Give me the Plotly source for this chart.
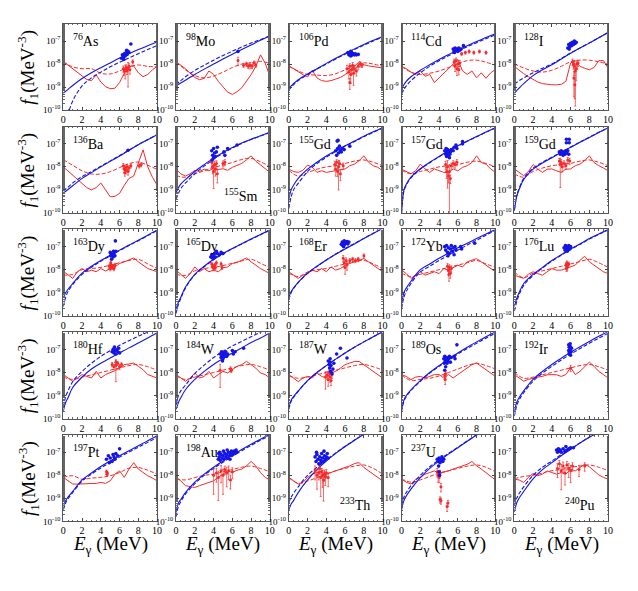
import plotly.graph_objects as go

# ---------------- data (log10 of f1 in MeV^-3) ----------------
NUCLEI = [("76", "As"), ("98", "Mo"), ("106", "Pd"), ("114", "Cd"), ("128", "I"),
          ("136", "Ba"), ("155", "Sm"), ("155", "Gd"), ("157", "Gd"), ("159", "Gd"),
          ("163", "Dy"), ("165", "Dy"), ("168", "Er"), ("172", "Yb"), ("176", "Lu"),
          ("180", "Hf"), ("184", "W"), ("187", "W"), ("189", "Os"), ("192", "Ir"),
          ("197", "Pt"), ("198", "Au"), ("233", "Th"), ("237", "U"), ("240", "Pu")]
LABEL_CORNER = ["tl"] * 6 + ["br"] + ["tl"] * 15 + ["br", "tl", "br"]

XB = [0, 0.25, 0.5, 1, 2, 3, 4, 5, 6, 7, 8, 9, 10]
XR = [0, 0.5, 1, 1.5, 2, 2.5, 3, 3.5, 4, 4.5, 5, 5.5, 6, 6.5, 7, 7.5, 8, 8.5, 9, 9.5, 10]
XD = [0, 1, 2, 3, 4, 5, 6, 7, 8, 9, 10]

BLUE_SOLID = [
    [-9.27, -9.18, -9.1, -8.93, -8.63, -8.38, -8.16, -7.95, -7.74, -7.55, -7.37, -7.2, -7.04],
    [-8.95, -8.88, -8.82, -8.7, -8.45, -8.22, -8.0, -7.78, -7.57, -7.37, -7.17, -6.97, -6.78],
    [-9.1, -8.95, -8.85, -8.68, -8.43, -8.2, -7.97, -7.75, -7.54, -7.34, -7.15, -6.97, -6.8],
    [-9.1, -8.9, -8.75, -8.55, -8.27, -8.03, -7.8, -7.59, -7.39, -7.2, -7.02, -6.85, -6.68],
    [-9.28, -9.15, -9.05, -8.85, -8.5, -8.25, -8.03, -7.78, -7.53, -7.3, -7.09, -6.86, -6.63],
    [-9.14, -9.06, -8.98, -8.82, -8.5, -8.25, -8.0, -7.76, -7.53, -7.28, -7.04, -6.82, -6.6],
    [-9.1, -8.9, -8.75, -8.55, -8.2, -7.9, -7.62, -7.38, -7.16, -6.96, -6.8, -6.65, -6.5],
    [-9.4, -9.0, -8.8, -8.5, -8.1, -7.8, -7.53, -7.3, -7.08, -6.88, -6.67, -6.48, -6.3],
    [-10.0, -9.0, -8.75, -8.45, -8.08, -7.8, -7.55, -7.3, -7.08, -6.88, -6.68, -6.49, -6.3],
    [-9.9, -9.3, -9.0, -8.55, -8.1, -7.83, -7.6, -7.37, -7.15, -6.93, -6.72, -6.51, -6.3],
    [-9.2, -9.0, -8.85, -8.6, -8.15, -7.85, -7.6, -7.37, -7.15, -6.93, -6.72, -6.5, -6.27],
    [-9.7, -9.4, -9.2, -8.75, -8.2, -7.85, -7.55, -7.3, -7.08, -6.87, -6.67, -6.47, -6.27],
    [-9.2, -8.95, -8.8, -8.55, -8.15, -7.85, -7.58, -7.33, -7.1, -6.88, -6.65, -6.43, -6.2],
    [-9.5, -9.0, -8.8, -8.5, -8.0, -7.75, -7.5, -7.28, -7.05, -6.85, -6.65, -6.45, -6.25],
    [-9.6, -9.25, -9.0, -8.6, -8.2, -7.9, -7.6, -7.35, -7.1, -6.88, -6.65, -6.45, -6.25],
    [-9.68, -9.3, -9.1, -8.65, -8.2, -7.85, -7.6, -7.37, -7.15, -6.93, -6.72, -6.5, -6.27],
    [-9.6, -9.3, -9.1, -8.75, -8.3, -7.95, -7.65, -7.4, -7.15, -6.93, -6.7, -6.5, -6.28],
    [-9.5, -9.2, -9.05, -8.8, -8.35, -8.0, -7.7, -7.42, -7.15, -6.9, -6.67, -6.45, -6.23],
    [-9.6, -9.2, -9.0, -8.75, -8.35, -8.0, -7.7, -7.42, -7.15, -6.9, -6.67, -6.45, -6.23],
    [-9.7, -9.3, -9.1, -8.8, -8.3, -7.95, -7.65, -7.38, -7.12, -6.88, -6.65, -6.43, -6.22],
    [-9.35, -9.1, -8.95, -8.7, -8.2, -7.9, -7.62, -7.38, -7.15, -6.93, -6.72, -6.5, -6.28],
    [-9.6, -9.2, -9.05, -8.75, -8.3, -7.95, -7.65, -7.38, -7.12, -6.88, -6.65, -6.43, -6.22],
    [-9.5, -9.25, -9.1, -8.75, -8.2, -7.75, -7.38, -7.05, -6.75, -6.48, -6.22, -5.98, -5.75],
    [-9.5, -9.1, -8.9, -8.6, -8.1, -7.7, -7.38, -7.08, -6.8, -6.52, -6.25, -6.0, -5.75],
    [-9.6, -9.2, -9.0, -8.7, -8.15, -7.75, -7.45, -7.15, -6.88, -6.6, -6.35, -6.12, -5.88],
]

BLUE_DASH = [
    [-11.0, -10.6, -10.2, -9.6, -8.95, -8.6, -8.35, -8.12, -7.92, -7.73, -7.55, -7.37, -7.2],
    [-8.9, -8.8, -8.72, -8.55, -8.28, -8.05, -7.83, -7.63, -7.44, -7.26, -7.09, -6.93, -6.78],
    [-9.15, -9.0, -8.9, -8.72, -8.46, -8.22, -8.0, -7.78, -7.57, -7.37, -7.18, -7.0, -6.83],
    [-9.3, -9.1, -8.95, -8.72, -8.38, -8.1, -7.86, -7.64, -7.44, -7.25, -7.07, -6.9, -6.73],
    [-8.85, -8.8, -8.72, -8.6, -8.38, -8.18, -8.0, -7.76, -7.52, -7.3, -7.08, -6.86, -6.63],
    [-9.05, -8.96, -8.88, -8.7, -8.42, -8.2, -7.97, -7.74, -7.51, -7.27, -7.03, -6.81, -6.6],
    [-9.4, -9.15, -8.95, -8.7, -8.3, -7.97, -7.67, -7.41, -7.18, -6.98, -6.81, -6.66, -6.51],
    [-9.8, -9.3, -9.0, -8.72, -8.2, -7.86, -7.58, -7.33, -7.1, -6.9, -6.69, -6.5, -6.32],
    [-10.0, -9.05, -8.8, -8.48, -8.1, -7.82, -7.56, -7.31, -7.09, -6.89, -6.69, -6.5, -6.31],
    [-9.9, -9.25, -8.95, -8.5, -8.05, -7.8, -7.58, -7.36, -7.14, -6.92, -6.71, -6.5, -6.3],
    [-9.6, -9.2, -8.95, -8.65, -8.2, -7.9, -7.63, -7.4, -7.17, -6.95, -6.74, -6.52, -6.3],
    [-9.9, -9.5, -9.25, -8.8, -8.22, -7.87, -7.57, -7.32, -7.09, -6.88, -6.68, -6.48, -6.28],
    [-9.3, -9.0, -8.82, -8.56, -8.16, -7.86, -7.58, -7.32, -7.08, -6.86, -6.64, -6.42, -6.2],
    [-9.7, -9.2, -8.95, -8.6, -8.1, -7.85, -7.6, -7.38, -7.15, -6.93, -6.72, -6.5, -6.3],
    [-9.8, -9.4, -9.1, -8.68, -8.25, -7.93, -7.63, -7.37, -7.12, -6.9, -6.67, -6.47, -6.27],
    [-9.5, -9.05, -8.8, -8.4, -7.95, -7.6, -7.3, -7.05, -6.82, -6.62, -6.42, -6.24, -6.05],
    [-9.4, -9.0, -8.8, -8.55, -8.05, -7.68, -7.35, -7.08, -6.85, -6.65, -6.45, -6.25, -6.06],
    [-9.6, -9.25, -9.08, -8.82, -8.36, -8.0, -7.7, -7.42, -7.15, -6.9, -6.67, -6.45, -6.23],
    [-9.7, -9.25, -9.05, -8.78, -8.38, -8.03, -7.73, -7.46, -7.2, -6.96, -6.73, -6.51, -6.3],
    [-9.9, -9.45, -9.2, -8.88, -8.38, -8.03, -7.73, -7.46, -7.2, -6.96, -6.73, -6.51, -6.3],
    [-9.5, -9.2, -9.02, -8.75, -8.25, -7.95, -7.68, -7.44, -7.21, -6.99, -6.78, -6.57, -6.36],
    [-9.8, -9.35, -9.15, -8.82, -8.36, -8.0, -7.7, -7.43, -7.17, -6.93, -6.7, -6.48, -6.27],
    [-9.2, -8.95, -8.78, -8.5, -8.0, -7.65, -7.33, -7.03, -6.74, -6.47, -6.21, -5.97, -5.74],
    [-9.3, -8.95, -8.75, -8.45, -8.0, -7.63, -7.33, -7.05, -6.78, -6.51, -6.24, -5.99, -5.74],
    [-9.3, -9.0, -8.8, -8.5, -8.0, -7.65, -7.38, -7.1, -6.85, -6.59, -6.34, -6.11, -5.88],
]

RED_SOLID = [
    [-7.89, -8.05, -8.2, -8.37, -8.53, -8.67, -8.72, -8.47, -8.78, -8.98, -9.07, -9.05, -8.8, -8.4, -8.1, -8.08, -8.38, -8.55, -8.45, -8.25, -8.1],
    [-7.9, -8.05, -8.2, -8.4, -8.58, -8.68, -8.62, -8.3, -8.45, -8.75, -9.0, -9.22, -9.32, -9.2, -9.03, -8.75, -8.46, -8.1, -7.6, -7.96, -8.53],
    [-8.07, -8.2, -8.36, -8.46, -8.56, -8.27, -8.6, -8.72, -8.75, -8.72, -8.65, -8.58, -8.46, -8.3, -8.1, -7.89, -8.03, -8.08, -8.1, -8.15, -8.17],
    [-8.1, -8.2, -8.35, -8.45, -8.3, -8.53, -8.45, -8.8, -8.6, -8.4, -8.24, -8.03, -7.8, -8.3, -8.45, -8.3, -8.6, -8.38, -8.62, -8.38, -8.24],
    [-8.1, -8.27, -8.42, -8.55, -8.68, -8.78, -8.85, -8.88, -8.9, -8.9, -8.88, -8.75, -7.95, -7.85, -8.1, -8.18, -8.25, -8.15, -7.85, -7.85, -8.17],
    [-8.0, -8.18, -8.36, -8.55, -8.75, -8.9, -9.0, -8.9, -8.7, -9.0, -9.3, -9.28, -9.15, -8.8, -8.5, -8.4, -7.79, -7.26, -8.0, -8.45, -8.79],
    [-8.1, -8.3, -8.4, -8.3, -8.15, -8.2, -8.1, -8.17, -8.05, -8.12, -8.08, -8.15, -8.02, -7.92, -7.85, -7.7, -7.52, -7.75, -7.9, -8.05, -8.24],
    [-8.1, -8.2, -8.24, -8.15, -7.92, -8.02, -8.24, -8.17, -8.24, -8.2, -8.17, -8.12, -8.09, -7.95, -7.88, -7.73, -7.52, -7.8, -7.95, -8.02, -8.17],
    [-8.1, -8.2, -8.3, -8.17, -7.88, -8.09, -8.24, -8.09, -8.17, -8.24, -8.24, -8.09, -8.17, -8.02, -7.95, -7.81, -7.52, -7.81, -7.88, -8.09, -8.24],
    [-8.09, -8.25, -8.38, -8.2, -7.9, -8.1, -8.24, -8.1, -8.09, -8.17, -8.24, -8.1, -8.09, -7.95, -7.88, -7.73, -7.52, -7.81, -7.95, -8.05, -8.17],
    [-8.07, -8.24, -8.38, -8.09, -7.95, -8.09, -8.02, -8.09, -7.95, -8.06, -7.95, -7.88, -7.73, -7.66, -7.59, -7.49, -7.66, -7.81, -7.95, -8.02, -8.09],
    [-8.02, -8.2, -8.38, -8.17, -7.88, -8.09, -7.95, -8.09, -8.02, -8.09, -7.92, -7.88, -7.73, -7.69, -7.59, -7.49, -7.66, -7.81, -7.95, -8.06, -8.17],
    [-8.09, -8.24, -8.38, -8.24, -8.17, -8.02, -8.09, -7.95, -8.09, -7.88, -8.02, -7.95, -7.81, -7.73, -7.66, -7.59, -7.52, -7.66, -7.81, -7.95, -8.09],
    [-8.02, -8.17, -8.38, -8.24, -8.09, -8.24, -8.17, -8.09, -8.17, -7.95, -8.02, -7.92, -7.81, -7.88, -7.66, -7.59, -7.52, -7.66, -7.81, -7.95, -8.09],
    [-8.24, -8.3, -8.38, -8.2, -8.09, -8.17, -8.24, -8.09, -7.95, -8.02, -8.02, -7.95, -7.88, -7.8, -7.59, -7.42, -7.66, -7.81, -7.95, -8.09, -8.17],
    [-8.09, -8.24, -8.38, -8.24, -8.09, -8.17, -8.24, -7.95, -8.24, -8.09, -8.02, -7.92, -7.81, -7.66, -7.63, -7.59, -7.73, -7.88, -8.09, -8.17, -8.24],
    [-8.09, -8.24, -8.38, -8.24, -8.02, -8.24, -8.17, -7.95, -8.24, -8.09, -7.95, -8.02, -7.88, -7.73, -7.66, -7.52, -7.66, -7.81, -8.02, -8.09, -8.24],
    [-8.09, -8.24, -8.4, -8.24, -8.17, -8.24, -8.02, -8.17, -8.24, -8.02, -7.95, -7.81, -7.66, -7.59, -7.52, -7.52, -7.66, -7.81, -7.95, -8.09, -8.24],
    [-8.09, -8.17, -8.31, -8.2, -8.17, -8.24, -8.17, -8.09, -8.09, -8.24, -8.09, -8.24, -8.09, -7.95, -7.81, -7.66, -7.59, -7.73, -7.88, -8.02, -8.17],
    [-8.09, -8.24, -8.38, -8.3, -8.24, -8.2, -8.17, -8.1, -8.09, -8.1, -8.17, -8.09, -7.78, -8.09, -7.95, -7.73, -7.55, -7.73, -7.95, -8.09, -8.24],
    [-8.09, -8.24, -8.38, -8.38, -8.38, -8.38, -8.35, -8.35, -8.31, -8.35, -8.24, -7.95, -7.81, -8.09, -7.73, -7.45, -7.73, -7.88, -8.02, -8.12, -8.24],
    [-8.09, -8.24, -8.45, -8.5, -8.53, -8.45, -8.38, -8.3, -8.24, -8.09, -7.95, -7.81, -7.88, -7.78, -7.73, -7.59, -7.4, -7.59, -7.88, -8.09, -8.2],
    [-8.09, -8.24, -8.38, -8.31, -8.09, -7.95, -7.88, -7.81, -7.95, -7.88, -7.81, -7.73, -7.66, -7.59, -7.49, -7.45, -7.66, -7.81, -7.95, -8.09, -8.24],
    [-8.17, -8.3, -8.38, -8.17, -8.09, -7.95, -7.88, -7.81, -7.92, -7.88, -7.81, -7.73, -7.66, -7.59, -7.52, -7.4, -7.59, -7.73, -7.88, -8.02, -8.2],
    [-8.17, -8.2, -8.31, -8.09, -7.92, -8.02, -7.95, -7.81, -7.88, -7.95, -7.88, -7.95, -7.73, -7.81, -7.66, -7.52, -7.63, -7.81, -7.98, -8.09, -8.17],
]

RED_DASH = [
    [-7.9, -8.12, -8.2, -8.2, -8.4, -8.43, -8.3, -8.12, -8.04, -8.1, -8.12],
    [-7.9, -8.25, -8.5, -8.6, -8.52, -8.35, -8.15, -8.0, -7.95, -7.88, -7.98],
    [-8.1, -8.3, -8.45, -8.48, -8.5, -8.42, -8.25, -8.1, -7.95, -8.0, -8.1],
    [-8.1, -8.35, -8.45, -8.4, -8.3, -8.15, -7.98, -7.85, -7.83, -7.92, -8.05],
    [-7.99, -8.17, -8.3, -8.35, -8.27, -8.1, -7.9, -7.83, -7.83, -7.9, -8.0],
    [-7.69, -7.93, -8.17, -8.31, -8.31, -8.21, -8.03, -7.86, -7.79, -7.93, -8.11],
    [-8.38, -8.45, -8.3, -8.17, -8.03, -7.92, -7.81, -7.68, -7.63, -7.78, -7.98],
    [-8.15, -8.4, -8.25, -8.1, -8.0, -7.95, -7.85, -7.75, -7.7, -7.8, -7.95],
    [-8.15, -8.3, -8.2, -8.1, -8.0, -7.95, -7.9, -7.8, -7.75, -7.85, -8.0],
    [-8.3, -8.45, -8.2, -8.05, -7.95, -7.9, -7.85, -7.75, -7.7, -7.8, -7.95],
    [-8.24, -8.2, -8.0, -7.95, -7.9, -7.8, -7.7, -7.6, -7.55, -7.75, -7.95],
    [-8.2, -8.25, -8.05, -7.95, -7.9, -7.82, -7.72, -7.62, -7.55, -7.72, -7.92],
    [-8.15, -8.3, -8.1, -8.0, -7.95, -7.85, -7.75, -7.65, -7.6, -7.75, -7.95],
    [-8.15, -8.3, -8.2, -8.1, -8.0, -7.9, -7.8, -7.7, -7.6, -7.75, -7.9],
    [-8.1, -8.35, -8.15, -8.05, -7.95, -7.85, -7.75, -7.65, -7.55, -7.7, -7.9],
    [-8.2, -8.3, -8.2, -8.1, -8.0, -7.9, -7.8, -7.7, -7.65, -7.75, -7.9],
    [-8.15, -8.3, -8.2, -8.1, -8.0, -7.9, -7.8, -7.7, -7.65, -7.75, -7.9],
    [-8.15, -8.25, -8.2, -8.1, -8.0, -7.9, -7.8, -7.7, -7.65, -7.75, -7.9],
    [-8.1, -8.35, -8.3, -8.25, -8.15, -8.0, -7.85, -7.7, -7.6, -7.7, -7.85],
    [-8.0, -8.25, -8.2, -8.1, -8.0, -7.9, -7.8, -7.7, -7.65, -7.75, -7.9],
    [-8.09, -8.02, -8.17, -8.12, -8.09, -8.02, -7.88, -7.69, -7.66, -7.78, -7.95],
    [-8.15, -8.2, -8.1, -8.0, -7.95, -7.85, -7.75, -7.65, -7.6, -7.7, -7.85],
    [-8.1, -8.35, -8.25, -8.1, -7.95, -7.8, -7.7, -7.6, -7.55, -7.7, -7.95],
    [-8.15, -8.3, -8.2, -8.05, -7.9, -7.8, -7.7, -7.6, -7.55, -7.65, -7.85],
    [-8.15, -8.05, -8.0, -7.9, -7.8, -7.75, -7.65, -7.6, -7.55, -7.65, -7.8],
]

# blue experimental points: (E, log10 f1)
BLUE_PTS = [
    [(6.2, -7.75), (6.3, -7.6), (6.4, -7.7), (6.5, -7.55), (6.6, -7.65), (6.7, -7.5), (6.8, -7.58), (6.9, -7.45), (7.0, -7.5), (6.45, -7.8), (6.75, -7.4), (7.2, -7.13)],
    [(6.6, -7.45)],
    [(6.3, -7.5), (6.4, -7.6), (6.5, -7.55), (6.6, -7.65), (6.7, -7.5), (6.8, -7.6), (6.9, -7.55), (7.0, -7.6), (7.1, -7.55), (7.2, -7.6), (7.4, -7.58), (6.6, -7.45)],
    [(5.5, -7.35), (5.6, -7.45), (5.7, -7.3), (5.8, -7.4), (5.9, -7.35), (6.0, -7.45), (6.1, -7.3), (6.2, -7.4), (5.65, -7.5), (6.6, -7.2), (6.35, -7.35)],
    [(5.7, -7.3), (5.8, -7.15), (5.9, -7.25), (6.0, -7.1), (6.1, -7.2), (6.2, -7.05), (6.3, -7.15), (6.4, -7.0), (6.5, -7.1), (6.6, -7.05), (5.85, -7.35)],
    [(6.9, -7.28)],
    [(3.8, -7.3), (3.9, -7.5), (4.0, -7.2), (4.0, -7.6), (4.1, -7.4), (4.2, -7.55), (4.3, -7.35), (3.85, -7.7), (4.4, -7.15), (5.1, -7.35), (5.2, -7.5), (5.5, -7.2), (6.5, -7.05)],
    [(5.0, -7.3), (5.1, -7.5), (5.15, -6.88), (5.2, -7.2), (5.25, -6.85), (5.3, -7.4), (5.4, -7.1), (5.5, -7.3), (5.7, -7.2), (5.9, -7.25), (6.5, -7.1), (5.6, -7.35)],
    [(4.6, -7.3), (4.7, -7.45), (4.75, -7.2), (4.8, -7.55), (4.85, -7.35), (4.9, -7.25), (4.95, -7.5), (5.0, -7.4), (5.05, -7.3), (5.1, -7.6), (5.15, -7.45), (5.2, -7.35), (5.3, -7.25), (5.5, -7.3), (5.6, -7.15), (5.8, -7.05), (5.9, -7.2), (6.5, -7.0), (6.5, -6.9)],
    [(4.8, -7.35), (4.9, -7.45), (5.0, -7.3), (5.1, -7.4), (5.2, -7.5), (5.3, -7.35), (5.4, -7.45), (5.5, -7.3), (5.6, -7.4), (5.7, -7.3), (5.8, -7.45), (5.55, -6.8), (5.55, -6.95), (5.85, -6.8), (5.85, -6.95)],
    [(5.0, -7.25), (5.05, -7.4), (5.1, -7.3), (5.15, -7.55), (5.2, -7.35), (5.3, -7.45), (5.35, -7.2), (5.4, -7.3), (5.5, -7.4), (5.6, -7.2), (5.55, -6.75)],
    [(3.7, -7.45), (3.8, -7.35), (3.9, -7.5), (4.0, -7.4), (4.1, -7.3), (4.2, -7.45), (4.4, -7.3), (4.6, -7.35), (4.8, -7.25), (5.0, -7.3), (4.3, -7.2)],
    [(5.6, -6.9), (5.7, -6.8), (5.75, -6.95), (5.8, -6.85), (5.9, -6.75), (5.95, -6.9), (6.0, -6.8), (6.1, -6.85), (6.2, -6.78), (6.3, -6.88), (6.4, -6.8), (5.85, -7.0)],
    [(4.6, -7.0), (4.7, -7.15), (4.8, -6.95), (4.9, -7.25), (5.0, -7.05), (5.1, -7.3), (5.2, -7.1), (5.3, -6.95), (5.4, -7.2), (5.5, -7.05), (5.6, -7.35), (5.7, -7.0), (5.8, -7.15), (6.3, -7.0), (6.4, -7.1), (7.8, -6.85), (4.95, -7.4)],
    [(5.3, -7.05), (5.4, -7.15), (5.45, -6.95), (5.5, -7.1), (5.6, -7.0), (5.65, -7.2), (5.7, -7.05), (5.8, -6.95), (5.9, -7.1), (6.0, -7.0), (5.55, -7.15)],
    [(5.2, -7.1), (5.3, -7.0), (5.4, -7.15), (5.5, -7.05), (5.6, -7.2), (5.7, -7.0), (5.8, -7.1), (5.9, -6.95), (6.0, -7.15), (5.45, -6.9)],
    [(4.7, -7.2), (4.8, -7.35), (4.85, -7.1), (4.9, -7.25), (5.0, -7.4), (5.05, -7.15), (5.1, -7.3), (5.2, -7.2), (5.3, -7.1), (5.4, -7.3), (5.5, -7.2), (4.95, -7.5), (6.0, -7.05), (6.1, -7.2), (6.3, -7.1), (7.2, -6.95)],
    [(4.2, -7.5), (4.3, -7.65), (4.35, -7.8), (4.4, -7.55), (4.45, -7.95), (4.5, -7.7), (4.6, -8.05), (4.7, -7.85), (4.8, -7.6), (4.4, -7.4), (5.1, -7.2), (5.5, -6.95), (6.2, -7.37)],
    [(4.5, -7.4), (4.55, -7.6), (4.6, -7.3), (4.65, -7.5), (4.7, -7.75), (4.75, -7.45), (4.8, -7.35), (4.85, -7.6), (4.9, -7.5), (5.0, -7.4), (5.1, -7.3), (5.2, -7.55), (5.3, -7.35), (4.6, -7.9), (5.6, -7.3), (5.7, -7.4), (5.9, -6.8)],
    [(5.8, -6.8), (5.85, -6.9), (5.9, -6.85), (5.95, -7.0), (6.0, -6.9), (6.05, -7.1), (5.8, -7.05), (5.9, -7.2), (6.0, -7.25), (6.1, -6.95), (5.85, -7.15), (5.95, -6.75)],
    [(4.6, -7.3), (4.8, -7.15), (5.0, -7.25), (5.2, -7.4), (5.3, -7.1), (5.4, -7.2), (5.6, -7.05), (5.8, -7.15), (6.0, -6.85), (4.9, -7.45), (5.5, -7.3)],
    [(4.5, -7.3), (4.6, -7.2), (4.7, -7.35), (4.8, -7.1), (4.9, -7.25), (5.0, -7.15), (5.1, -7.3), (5.2, -7.05), (5.3, -7.2), (5.4, -7.1), (5.5, -7.25), (5.6, -7.0), (5.7, -7.15), (5.8, -7.05), (5.9, -6.95), (6.0, -7.1), (6.1, -7.0), (6.2, -6.95), (6.3, -7.05), (6.4, -6.9), (6.5, -7.0), (4.65, -7.0), (5.05, -6.95), (5.45, -6.9), (4.55, -7.05), (5.75, -7.3)],
    [(2.8, -7.2), (2.9, -7.4), (3.0, -7.1), (3.1, -7.3), (3.2, -7.5), (3.3, -7.2), (3.4, -7.35), (3.5, -7.05), (3.6, -7.25), (3.7, -7.4), (3.8, -7.15), (3.9, -7.3), (4.0, -7.2), (4.1, -7.05), (2.95, -7.0), (3.45, -7.45), (3.75, -6.95), (4.2, -7.25)],
    [(3.8, -7.3), (3.9, -7.4), (4.0, -7.25), (4.1, -7.45), (4.2, -7.35), (4.3, -7.2), (4.4, -7.4), (4.5, -7.3), (4.0, -7.85), (4.05, -8.0), (3.95, -7.6)],
    [(4.5, -6.9), (4.6, -7.0), (4.7, -6.85), (4.8, -6.95), (4.9, -6.9), (5.0, -7.0), (5.2, -6.85), (5.4, -6.95), (5.6, -6.9), (5.8, -6.85), (6.0, -6.8), (6.3, -6.8), (5.5, -6.75)],
]

# red experimental points: (E, log10 f1, relative error)
RED_PTS = [
    [(6.4, -8.2, 0.3), (6.5, -8.3, 0.35), (6.6, -8.25, 0.6), (6.7, -8.15, 0.3), (6.8, -8.3, 0.3), (6.9, -8.2, 0.84), (7.0, -8.1, 0.3), (7.1, -8.25, 0.35), (7.4, -7.9, 0.2)],
    [(6.6, -7.85, 0.4), (7.2, -8.05, 0.2), (7.5, -8.0, 0.2), (7.7, -8.1, 0.2), (7.9, -8.05, 0.3), (8.1, -8.1, 0.2), (8.3, -7.95, 0.2), (8.5, -8.05, 0.2)],
    [(6.2, -8.2, 0.4), (6.4, -8.35, 0.5), (6.5, -8.1, 0.3), (6.6, -8.45, 0.6), (6.7, -8.25, 0.4), (6.8, -8.05, 0.3), (6.9, -8.4, 0.7), (7.0, -8.2, 0.4), (7.2, -8.3, 0.4), (7.4, -8.1, 0.3), (7.6, -8.0, 0.25), (7.8, -8.05, 0.2), (6.5, -8.8, 0.5)],
    [(5.6, -7.9, 0.3), (5.7, -8.1, 0.4), (5.8, -7.85, 0.3), (5.9, -8.2, 0.5), (6.0, -8.0, 0.4), (6.1, -8.25, 0.4), (6.2, -7.95, 0.3), (6.4, -7.55, 0.15), (6.8, -7.5, 0.15), (7.2, -7.45, 0.15), (7.7, -7.5, 0.15), (8.3, -7.45, 0.15), (9.0, -7.5, 0.15)],
    [(6.2, -7.9, 0.3), (6.3, -8.0, 0.4), (6.4, -8.1, 0.6), (6.5, -8.3, 0.97), (6.6, -8.2, 0.7), (6.7, -8.0, 0.4), (6.8, -7.95, 0.3), (6.35, -8.6, 0.85), (6.45, -8.9, 0.75)],
    [(6.4, -7.95, 0.25), (6.5, -8.1, 0.3), (6.6, -8.05, 0.25), (6.7, -8.15, 0.3), (6.8, -8.0, 0.25), (6.9, -8.2, 0.3), (7.0, -8.05, 0.25), (7.2, -7.95, 0.2), (8.1, -7.95, 0.2), (8.3, -7.9, 0.2), (6.55, -8.25, 0.3)],
    [(3.8, -7.8, 0.4), (3.9, -8.0, 0.5), (4.0, -8.2, 0.82), (4.1, -7.9, 0.4), (4.2, -8.1, 0.5), (4.3, -7.85, 0.3), (4.4, -8.3, 0.6), (5.0, -7.85, 0.3), (5.2, -7.8, 0.3)],
    [(4.9, -7.9, 0.4), (5.0, -8.1, 0.5), (5.1, -7.8, 0.3), (5.2, -8.2, 0.4), (5.3, -8.0, 0.9), (5.4, -7.85, 0.3), (5.5, -8.3, 0.5), (5.8, -7.95, 0.3)],
    [(4.7, -7.9, 0.4), (4.8, -8.2, 0.5), (4.9, -8.0, 0.88), (5.0, -8.4, 0.5), (5.1, -8.2, 0.99), (5.2, -8.5, 0.4), (5.3, -7.95, 0.3), (5.5, -7.85, 0.3), (5.7, -7.9, 0.3), (5.9, -7.8, 0.3)],
    [(4.8, -7.75, 0.3), (4.9, -7.9, 0.9), (5.0, -7.8, 0.3), (5.1, -8.0, 0.4), (5.3, -7.85, 0.3), (5.5, -7.95, 0.3), (5.7, -7.7, 0.3), (5.9, -7.75, 0.3)],
    [(4.9, -7.85, 0.2), (5.0, -7.95, 0.2), (5.1, -7.8, 0.2), (5.2, -7.9, 0.2), (5.3, -7.85, 0.2), (5.4, -7.95, 0.2), (5.5, -7.8, 0.2), (5.05, -7.7, 0.2)],
    [(3.8, -7.75, 0.2), (3.9, -7.85, 0.2), (4.0, -7.95, 0.2), (4.1, -7.8, 0.2), (4.2, -7.9, 0.2), (4.3, -7.7, 0.2), (4.8, -7.75, 0.2), (4.9, -7.9, 0.2)],
    [(5.8, -7.5, 0.3), (5.9, -7.7, 0.4), (6.0, -7.9, 0.5), (6.1, -7.6, 0.3), (6.2, -7.8, 0.4), (6.5, -7.6, 0.2), (6.8, -7.55, 0.2), (7.1, -7.6, 0.2), (7.4, -7.55, 0.2), (8.0, -7.4, 0.2)],
    [(4.9, -7.85, 0.3), (5.0, -8.05, 0.4), (5.1, -7.9, 0.3), (5.2, -8.15, 0.4), (5.3, -7.95, 0.3), (5.05, -8.2, 0.5)],
    [(5.5, -7.8, 0.2), (5.55, -7.95, 0.25), (5.6, -7.7, 0.2), (5.65, -7.9, 0.3), (5.7, -7.8, 0.2), (5.8, -7.75, 0.2)],
    [(5.2, -7.65, 0.2), (5.4, -7.75, 0.25), (5.6, -7.7, 0.8), (5.8, -7.6, 0.2), (6.0, -7.75, 0.25), (6.2, -7.65, 0.2), (5.6, -7.55, 0.2)],
    [(4.7, -7.9, 0.82), (5.8, -7.85, 0.25), (5.9, -7.9, 0.2)],
    [(4.1, -8.1, 0.4), (4.2, -8.3, 0.5), (4.3, -8.0, 0.3), (4.4, -8.2, 0.4), (4.5, -8.35, 0.4), (4.6, -8.1, 0.3), (3.9, -8.2, 0.7)],
    [(4.6, -8.15, 0.3), (4.65, -8.3, 0.4), (4.7, -8.05, 0.3)],
    [(6.0, -7.8, 0.3)],
    [(4.6, -7.85, 0.2), (4.65, -7.95, 0.2), (4.7, -7.9, 0.2)],
    [(4.0, -8.0, 0.85), (4.3, -7.9, 0.6), (4.5, -8.1, 0.9), (4.8, -7.8, 0.7), (5.0, -8.0, 0.85), (5.2, -7.75, 0.4), (5.4, -7.9, 0.75), (5.6, -7.8, 0.6), (5.8, -8.2, 0.6), (6.0, -7.85, 0.5)],
    [(2.8, -7.8, 0.6), (3.0, -8.0, 0.75), (3.2, -7.9, 0.5), (3.4, -8.1, 0.85), (3.5, -7.85, 0.4), (3.6, -8.0, 0.7), (3.7, -8.2, 0.88), (3.8, -7.95, 0.5), (3.9, -8.05, 0.6), (4.0, -7.9, 0.4), (4.2, -8.1, 0.6), (3.3, -7.7, 0.3)],
    [(3.8, -7.85, 0.4), (3.9, -8.0, 0.5), (4.0, -8.1, 0.4), (4.1, -7.9, 0.3), (4.2, -8.5, 0.4), (4.1, -9.05, 0.3), (4.2, -9.1, 0.3), (4.85, -9.35, 0.4), (4.95, -9.2, 0.3)],
    [(4.6, -7.7, 0.6), (4.8, -7.5, 0.4), (5.0, -7.8, 0.85), (5.2, -7.6, 0.5), (5.4, -7.9, 0.7), (5.6, -7.55, 0.4), (5.8, -7.7, 0.6), (6.0, -7.8, 0.7), (6.2, -7.6, 0.4), (6.9, -7.75, 0.5), (7.5, -7.6, 0.4)],
]

X_TICKS = [0, 2, 4, 6, 8, 10]
Y_TICKS = [1e-10, 1e-9, 1e-8, 1e-7]
Y_TICKTEXT = ["10<sup>-10</sup>", "10<sup>-9</sup>", "10<sup>-8</sup>", "10<sup>-7</sup>"]

# ---------------- layout geometry (pixels in the browser window) ----------------
OFF = 8                      # default page margin of the html body
W, H = 638 - OFF, 591 - OFF  # figure size
COL_L = [61, 175.2, 289.4, 403.6, 517.8]
ROW_T = [24, 127.7, 231.4, 335.1, 438.8]
PW, PH = 95, 87
FONT = "Liberation Serif, Times New Roman, serif"
BLUE = "#1414e6"
RED = "#f52a2a"


def px_x(v):
    return (v - OFF) / W


def px_y(v):
    return 1 - (v - OFF) / H


fig = go.Figure()
layout = dict(width=W, height=H, margin=dict(l=0, r=0, t=0, b=0),
              paper_bgcolor="white", plot_bgcolor="white", showlegend=False,
              font=dict(family=FONT, color="black"))
annotations = []


def p10(v):
    return [10 ** a for a in v]


for i in range(25):
    r, c = divmod(i, 5)
    k = "" if i == 0 else str(i + 1)
    xa, ya = "x" + k, "y" + k
    layout["xaxis" + k] = dict(
        domain=[px_x(COL_L[c]), px_x(COL_L[c] + PW)], range=[0, 10], anchor=ya, tickvals=X_TICKS,
        ticks="inside", ticklen=3, tickwidth=0.8, tickcolor="#444",
        mirror="allticks", showline=True, linecolor="#555", linewidth=1,
        showgrid=False, zeroline=False, tickfont=dict(size=10, family=FONT),
        minor=dict(ticks="inside", ticklen=1.5, dtick=0.5, tickcolor="#666", showgrid=False),
    )
    layout["yaxis" + k] = dict(
        domain=[px_y(ROW_T[r] + PH), px_y(ROW_T[r])], type="log", range=[-10, -6.254], anchor=xa,
        tickvals=Y_TICKS, ticktext=Y_TICKTEXT,
        ticks="inside", ticklen=3, tickwidth=0.8, tickcolor="#444",
        mirror="allticks", showline=True, linecolor="#555", linewidth=1,
        showgrid=False, zeroline=False, tickfont=dict(size=9, family=FONT),
        minor=dict(ticks="inside", ticklen=1.5, tickcolor="#666", showgrid=False),
    )

    # model curves
    fig.add_trace(go.Scatter(x=XR, y=p10(RED_SOLID[i]), mode="lines", xaxis=xa, yaxis=ya,
                             line=dict(color=RED, width=1), hoverinfo="skip"))
    fig.add_trace(go.Scatter(x=XD, y=p10(RED_DASH[i]), mode="lines", xaxis=xa, yaxis=ya,
                             line=dict(color=RED, width=1, dash="4px,2px", shape="spline"),
                             hoverinfo="skip"))
    fig.add_trace(go.Scatter(x=XB, y=p10(BLUE_DASH[i]), mode="lines", xaxis=xa, yaxis=ya,
                             line=dict(color=BLUE, width=1.1, dash="4px,2px", shape="spline"),
                             hoverinfo="skip"))
    fig.add_trace(go.Scatter(x=XB, y=p10(BLUE_SOLID[i]), mode="lines", xaxis=xa, yaxis=ya,
                             line=dict(color=BLUE, width=1.1, shape="spline"), hoverinfo="skip"))

    # experimental points
    rx = [p[0] for p in RED_PTS[i]]
    ry = [10 ** p[1] for p in RED_PTS[i]]
    rerr = [10 ** p[1] * p[2] for p in RED_PTS[i]]
    fig.add_trace(go.Scatter(x=rx, y=ry, mode="markers", xaxis=xa, yaxis=ya,
                             marker=dict(color=RED, size=3),
                             error_y=dict(type="data", symmetric=True, array=rerr,
                                          color=RED, thickness=0.7, width=1),
                             hoverinfo="skip"))
    bx = [p[0] for p in BLUE_PTS[i]]
    by = [10 ** p[1] for p in BLUE_PTS[i]]
    fig.add_trace(go.Scatter(x=bx, y=by, mode="markers", xaxis=xa, yaxis=ya,
                             marker=dict(color=BLUE, size=3.6), hoverinfo="skip"))

    # nucleus label
    mass, sym = NUCLEI[i]
    txt = "<sup>%s</sup>%s" % (mass, sym)
    if LABEL_CORNER[i] == "tl":
        annotations.append(dict(text=txt, xref="paper", yref="paper",
                                x=px_x(COL_L[c] + 8), y=px_y(ROW_T[r] + 16),
                                xanchor="left", yanchor="middle", showarrow=False,
                                font=dict(size=14, family=FONT)))
    else:
        annotations.append(dict(text=txt, xref="paper", yref="paper",
                                x=px_x(COL_L[c] + PW - 11), y=px_y(ROW_T[r] + PH - 18),
                                xanchor="right", yanchor="middle", showarrow=False,
                                font=dict(size=14, family=FONT)))

# axis titles
for r in range(5):
    annotations.append(dict(text="<i>f</i><sub>1</sub>(MeV<sup>-3</sup>)", xref="paper", yref="paper",
                            x=px_x(25), y=px_y(ROW_T[r] + PH / 2), textangle=-90,
                            xanchor="center", yanchor="middle", showarrow=False,
                            font=dict(size=19, family=FONT)))
for c in range(5):
    annotations.append(dict(text="<i>E</i><sub>γ</sub> (MeV)", xref="paper", yref="paper",
                            x=px_x(COL_L[c] + PW / 2), y=px_y(550),
                            xanchor="center", yanchor="middle", showarrow=False,
                            font=dict(size=19, family=FONT)))

layout["annotations"] = annotations
fig.update_layout(**layout)
fig.write_html("out.html")
